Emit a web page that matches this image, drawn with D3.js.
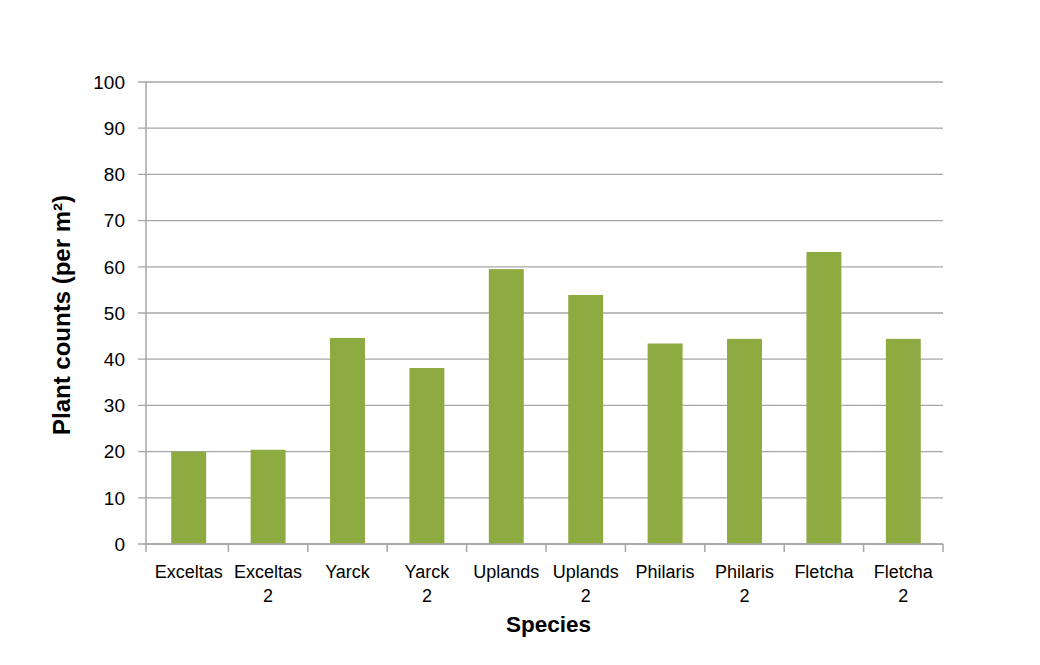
<!DOCTYPE html>
<html>
<head>
<meta charset="utf-8">
<script src="https://cdn.jsdelivr.net/npm/d3@7"></script>
<style>
  body { margin: 0; background: #fff; }
  text { font-family: "Liberation Sans", Arial, sans-serif; fill: #000; }
</style>
</head>
<body>
<div id="chart"></div>
<script>
const species = ["Exceltas", "Exceltas 2", "Yarck", "Yarck 2", "Uplands", "Uplands 2",
                 "Philaris", "Philaris 2", "Fletcha", "Fletcha 2"];
const counts = [20.0, 20.4, 44.6, 38.1, 59.5, 53.9, 43.4, 44.4, 63.2, 44.4];
const yTicks = [0, 10, 20, 30, 40, 50, 60, 70, 80, 90, 100];

const W = 1040, H = 665;
const margin = { top: 82, right: 97, bottom: 121, left: 146 };
const width = W - margin.left - margin.right;
const height = H - margin.top - margin.bottom;

const svg = d3.select("#chart").append("svg")
    .attr("width", W)
    .attr("height", H);

const g = svg.append("g")
    .attr("transform", `translate(${margin.left},${margin.top})`);

const x = d3.scaleBand()
    .domain(species)
    .range([3, width])
    .paddingInner(0.56)
    .paddingOuter(0.28);

const y = d3.scaleLinear()
    .domain([0, 100])
    .range([height, 0]);

// gridlines + y ticks
g.append("g")
    .selectAll("line")
    .data(yTicks)
    .enter().append("line")
    .attr("x1", -8)
    .attr("x2", width)
    .attr("y1", d => y(d))
    .attr("y2", d => y(d))
    .attr("stroke", "#a6a6a6")
    .attr("stroke-width", 1.3);

g.append("g")
    .selectAll("text")
    .data(yTicks)
    .enter().append("text")
    .attr("x", -21)
    .attr("y", d => y(d))
    .attr("dy", "0.36em")
    .attr("text-anchor", "end")
    .style("font-size", "19px")
    .text(d => d);

// bars
g.selectAll("rect.bar")
    .data(species.map((s, i) => ({ s, v: counts[i] })))
    .enter().append("rect")
    .attr("class", "bar")
    .attr("x", d => x(d.s))
    .attr("y", d => y(d.v))
    .attr("width", x.bandwidth())
    .attr("height", d => height - y(d.v))
    .attr("fill", "#8eab41");

// y axis line
g.append("line")
    .attr("x1", 0).attr("x2", 0)
    .attr("y1", 0).attr("y2", height)
    .attr("stroke", "#a6a6a6")
    .attr("stroke-width", 1.5);

// x axis line and ticks at category boundaries
const step = x.step();
const boundaries = [0].concat(species.map(s => x(s) + x.bandwidth() / 2 + step / 2));
g.append("line")
    .attr("x1", 0).attr("x2", width)
    .attr("y1", height).attr("y2", height)
    .attr("stroke", "#a6a6a6")
    .attr("stroke-width", 1.5);

g.append("g")
    .selectAll("line")
    .data(boundaries)
    .enter().append("line")
    .attr("x1", d => d).attr("x2", d => d)
    .attr("y1", height).attr("y2", height + 8)
    .attr("stroke", "#a6a6a6")
    .attr("stroke-width", 1.5);

// category labels, split on space before a trailing number
const labels = g.append("g")
    .selectAll("text")
    .data(species)
    .enter().append("text")
    .attr("x", d => x(d) + x.bandwidth() / 2)
    .attr("y", height + 34)
    .attr("text-anchor", "middle")
    .style("font-size", "18px");

labels.each(function (d) {
    const t = d3.select(this);
    const parts = d.split(" ");
    parts.forEach((p, i) => {
        t.append("tspan")
            .attr("x", t.attr("x"))
            .attr("dy", i === 0 ? 0 : "1.33em")
            .text(p);
    });
});

// axis titles
g.append("text")
    .attr("x", width / 2 + 4)
    .attr("y", height + 88)
    .attr("text-anchor", "middle")
    .style("font-size", "22.5px")
    .style("font-weight", "bold")
    .text("Species");

g.append("text")
    .attr("transform", `translate(${-76},${height / 2 + 2}) rotate(-90)`)
    .attr("text-anchor", "middle")
    .style("font-size", "24px")
    .style("font-weight", "bold")
    .text("Plant counts (per m²)");
</script>
</body>
</html>
